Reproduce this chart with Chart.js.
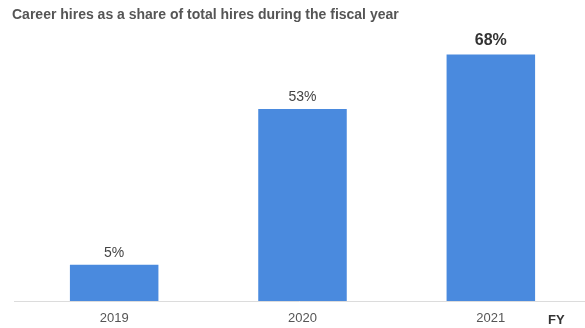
<!DOCTYPE html>
<html>
<head>
<meta charset="utf-8">
<script src="https://cdn.jsdelivr.net/npm/chart.js@4/dist/chart.umd.min.js"></script>
<style>
	html, body { margin: 0; padding: 0; background: #fff; }
	#wrap { width: 585px; height: 328px; position: relative; }
</style>
</head>
<body>
<div id="wrap"><canvas id="chart"></canvas></div>
<script>
var years = ['2019', '2020', '2021'];
// bar heights as drawn in the picture (the 2019 bar is drawn taller than 5)
var barValues = [10, 53, 68];
var valueLabels = ['5%', '53%', '68%'];
var titleText = 'Career hires as a share of total hires during the fiscal year';
var axisName = 'FY';

var FONT = '"Liberation Sans", Arial, sans-serif';

// title, value labels, FY tag and the baseline
var extras = {
	id: 'extras',
	beforeDatasetsDraw: function(chart) {
		var ctx = chart.ctx;
		var y = chart.chartArea.bottom + 0.5;
		ctx.save();
		ctx.strokeStyle = '#dcdcdc';
		ctx.lineWidth = 1;
		ctx.beginPath();
		ctx.moveTo(14, y);
		ctx.lineTo(585, y);
		ctx.stroke();
		ctx.restore();
	},
	afterDatasetsDraw: function(chart) {
		var ctx = chart.ctx;
		ctx.save();
		ctx.fillStyle = '#555';
		ctx.font = 'bold 14px ' + FONT;
		ctx.textAlign = 'left';
		ctx.textBaseline = 'middle';
		ctx.fillText(titleText, 12, 15);

		var meta = chart.getDatasetMeta(0);
		meta.data.forEach(function(bar, i) {
			var last = i == meta.data.length - 1;
			ctx.font = (last ? 'bold 16px ' : '14px ') + FONT;
			ctx.fillStyle = last ? '#333' : '#444';
			ctx.textAlign = 'center';
			ctx.textBaseline = 'bottom';
			ctx.fillText(valueLabels[i], bar.x, bar.y - (last ? 6 : 5));
		});

		ctx.font = 'bold 13px ' + FONT;
		ctx.fillStyle = '#333';
		ctx.textAlign = 'left';
		ctx.textBaseline = 'middle';
		ctx.fillText(axisName, 548, 320);
		ctx.restore();
	}
};

var ctx = document.getElementById('chart');
var myChart = new Chart(ctx, {
	type: 'bar',
	data: {
		labels: years,
		datasets: [
			{
				data: barValues,
				backgroundColor: '#4a8ade',
				barPercentage: 0.94,
				categoryPercentage: 0.5
			}
		]
	},
	options: {
		responsive: true,
		maintainAspectRatio: false,
		animation: false,
		layout: { padding: { top: 40, left: 20, right: 0, bottom: 0 } },
		plugins: {
			legend: { display: false },
			tooltip: { enabled: false },
			title: { display: false }
		},
		scales: {
			x: {
				grid: { display: false, drawTicks: false },
				border: { display: false },
				ticks: { color: '#555', font: { family: FONT, size: 13 }, padding: 10 },
				afterFit: function(scale) {
					scale.height = 27;
				}
			},
			y: {
				display: false,
				min: 0,
				max: 72
			}
		}
	},
	plugins: [extras]
});
</script>
</body>
</html>
